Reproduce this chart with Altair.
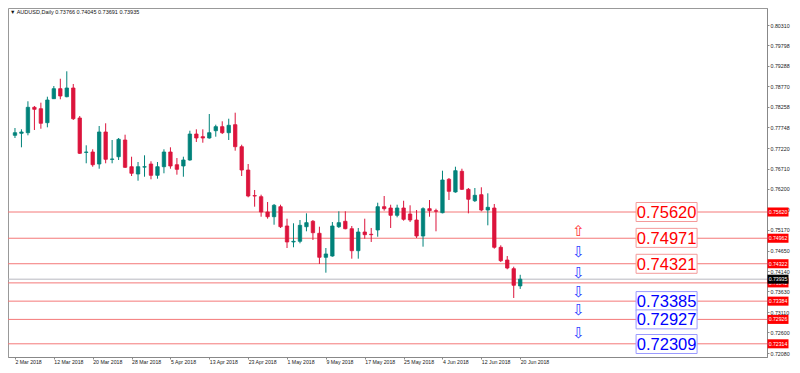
import altair as alt
import pandas as pd

# ---------------- data ----------------
DATE_LABELS = ["2 Mar 2018", "12 Mar 2018", "20 Mar 2018", "28 Mar 2018", "5 Apr 2018",
               "13 Apr 2018", "23 Apr 2018", "1 May 2018", "9 May 2018", "17 May 2018",
               "25 May 2018", "4 Jun 2018", "12 Jun 2018", "20 Jun 2018"]

OPEN = [0.77544, 0.77594, 0.77609, 0.78246, 0.78211, 0.77860, 0.78462, 0.78713, 0.78512, 0.78730,
        0.77978, 0.77115, 0.77125, 0.76824, 0.77627, 0.76940, 0.77007, 0.77426, 0.76756, 0.76573,
        0.76746, 0.76824, 0.76540, 0.76756, 0.77125, 0.76806, 0.76774, 0.76924, 0.77576, 0.77509,
        0.77476, 0.77659, 0.77760, 0.77609, 0.77810, 0.77258, 0.76673, 0.76031, 0.76004, 0.75620,
        0.75502, 0.75753, 0.75269, 0.74868, 0.74885, 0.75251, 0.75387, 0.75086, 0.74484, 0.74516,
        0.75251, 0.75387, 0.75201, 0.74649, 0.75118, 0.75061, 0.75169, 0.75753, 0.75720, 0.75537,
        0.75720, 0.75570, 0.75419, 0.75018, 0.75703, 0.75653, 0.75602, 0.76440, 0.76122, 0.76641,
        0.76189, 0.75903, 0.76054, 0.75670, 0.75720, 0.74735, 0.74416, 0.74198, 0.73766]
HIGH = [0.77727, 0.77694, 0.78397, 0.78279, 0.78362, 0.78512, 0.78780, 0.78963, 0.79149, 0.78831,
        0.78028, 0.77293, 0.77193, 0.77777, 0.77845, 0.77426, 0.77476, 0.77559, 0.77007, 0.76874,
        0.77042, 0.76892, 0.76874, 0.77193, 0.77243, 0.76974, 0.77007, 0.77659, 0.77694, 0.77694,
        0.78078, 0.77810, 0.77895, 0.77960, 0.78111, 0.77308, 0.76824, 0.76172, 0.76054, 0.75871,
        0.75821, 0.75803, 0.75452, 0.75337, 0.75419, 0.75587, 0.75419, 0.75251, 0.74717, 0.75369,
        0.75638, 0.75638, 0.75269, 0.75219, 0.75452, 0.75219, 0.75853, 0.76021, 0.75803, 0.75803,
        0.75903, 0.75788, 0.75670, 0.75738, 0.75921, 0.75703, 0.76656, 0.76473, 0.76756, 0.76706,
        0.76222, 0.76222, 0.76240, 0.76089, 0.75821, 0.74785, 0.74516, 0.74248, 0.74045]
LOW = [0.77476, 0.77243, 0.77544, 0.77677, 0.77709, 0.77744, 0.78454, 0.78447, 0.78497, 0.77928,
       0.77075, 0.76842, 0.76756, 0.76706, 0.76842, 0.76842, 0.76924, 0.76724, 0.76523, 0.76405,
       0.76505, 0.76440, 0.76455, 0.76591, 0.76706, 0.76556, 0.76505, 0.76907, 0.77376, 0.77358,
       0.77459, 0.77509, 0.77576, 0.77426, 0.77158, 0.76523, 0.75989, 0.75753, 0.75502, 0.75452,
       0.75301, 0.75219, 0.74717, 0.74735, 0.74835, 0.75136, 0.74918, 0.74316, 0.74098, 0.74499,
       0.75219, 0.75186, 0.74449, 0.74449, 0.74950, 0.74868, 0.75000, 0.75653, 0.75219, 0.75487,
       0.75402, 0.75369, 0.74968, 0.74750, 0.75502, 0.75136, 0.75587, 0.75921, 0.76104, 0.76172,
       0.75587, 0.75871, 0.75638, 0.75286, 0.74700, 0.74366, 0.74183, 0.73463, 0.73691]
CLOSE = [0.77609, 0.77627, 0.78246, 0.78196, 0.77845, 0.78429, 0.78713, 0.78530, 0.78730, 0.77960,
         0.77092, 0.77125, 0.76806, 0.77627, 0.76942, 0.76950, 0.77443, 0.76741, 0.76591, 0.76756,
         0.76756, 0.76540, 0.76756, 0.77125, 0.76774, 0.76691, 0.76924, 0.77576, 0.77476, 0.77476,
         0.77609, 0.77760, 0.77609, 0.77795, 0.77258, 0.76673, 0.76021, 0.76021, 0.75620, 0.75502,
         0.75788, 0.75251, 0.74868, 0.74885, 0.75286, 0.75352, 0.75101, 0.74484, 0.74567, 0.75269,
         0.75352, 0.75201, 0.74649, 0.75118, 0.75051, 0.75051, 0.75753, 0.75703, 0.75537, 0.75720,
         0.75437, 0.75419, 0.75018, 0.75703, 0.75653, 0.75638, 0.76423, 0.76139, 0.76656, 0.76189,
         0.75939, 0.76039, 0.75670, 0.75738, 0.74735, 0.74399, 0.74215, 0.73782, 0.73935]

Y_TICKS = [0.80310, 0.79798, 0.79288, 0.78770, 0.78258, 0.77748, 0.77220, 0.76710, 0.76200,
           0.75690, 0.75170, 0.74650, 0.74140, 0.73630, 0.73110, 0.72600, 0.72080]

LEVEL_LINES = [0.75620, 0.74962, 0.74322, 0.73842, 0.73384, 0.72926, 0.72314]
CURRENT_PRICE = 0.73935

RES_BOX_TEXT = ["0.75620", "0.74971", "0.74321"]
RES_BOX_LEVEL = [0.75620, 0.74971, 0.74321]
SUP_BOX_TEXT = ["0.73385", "0.72927", "0.72309"]
SUP_BOX_LEVEL = [0.73385, 0.72927, 0.72309]

UP_ARROWS = [0.75143]
DOWN_ARROWS = [0.74624, 0.74090, 0.73613, 0.73162, 0.72585]
ARROW_BAR = 87
BOX_BAR = 100.6

TITLE = "\u25BC AUDUSD,Daily  0.73766 0.74045 0.73691 0.73935"

# ---------------- tables ----------------
n = len(OPEN)
candles = pd.DataFrame({
    "bar": list(range(n)),
    "open": OPEN, "high": HIGH, "low": LOW, "close": CLOSE,
})
candles["dir"] = ["up" if c >= o else "down" for o, c in zip(OPEN, CLOSE)]

levels = pd.DataFrame({"price": LEVEL_LINES, "tag": [f"{v:.5f}" for v in LEVEL_LINES]})
current = pd.DataFrame({"price": [CURRENT_PRICE], "tag": [f"{CURRENT_PRICE:.5f}"]})
res_boxes = pd.DataFrame({"bar": [BOX_BAR] * len(RES_BOX_TEXT), "price": RES_BOX_LEVEL, "text": RES_BOX_TEXT})
sup_boxes = pd.DataFrame({"bar": [BOX_BAR] * len(SUP_BOX_TEXT), "price": SUP_BOX_LEVEL, "text": SUP_BOX_TEXT})
up_arr = pd.DataFrame({"bar": [ARROW_BAR] * len(UP_ARROWS), "price": UP_ARROWS, "t": ["\u21E7"] * len(UP_ARROWS)})
dn_arr = pd.DataFrame({"bar": [ARROW_BAR] * len(DOWN_ARROWS), "price": DOWN_ARROWS, "t": ["\u21E9"] * len(DOWN_ARROWS)})
title_df = pd.DataFrame({"t": [TITLE]})

# ---------------- scales & axes ----------------
PLOT_W, PLOT_H = 759, 349
XS = alt.Scale(domain=[-0.305, 115.33], nice=False, zero=False)
YS = alt.Scale(domain=[0.71983, 0.80737], nice=False, zero=False)

label_arr = "[" + ",".join(f"'{d}'" for d in DATE_LABELS) + "]"
X_AXIS = alt.Axis(values=list(range(0, 79, 6)), labelExpr=f"{label_arr}[round(datum.value/6)]",
                  labelAlign="left", labelFlush=False, labelOverlap=False, labelFontSize=5.2,
                  labelFont="Liberation Sans", labelColor="#222", labelPadding=0,
                  tickSize=2, tickColor="#888", domainColor="#888", grid=False, title=None)
Y_AXIS = alt.Axis(orient="right", values=Y_TICKS, format=".5f", labelFontSize=5.3,
                  labelFont="Liberation Sans", labelColor="#222", labelPadding=1,
                  labelOverlap=False, labelFlush=False,
                  tickSize=2, tickColor="#888", domainColor="#888", grid=False, title=None)


def X(field):
    return alt.X(field, scale=XS, axis=X_AXIS, title=None)


def Y(field):
    return alt.Y(field, scale=YS, axis=Y_AXIS, title=None)


COLORS = alt.Scale(domain=["up", "down"], range=["#00827a", "#dc143c"])

lines = alt.Chart(levels).mark_rule(color="#f47878", strokeWidth=1).encode(y=Y("price:Q"))
cur_line = alt.Chart(current).mark_rule(color="#b8b8c0", strokeWidth=1).encode(y=Y("price:Q"))

wicks = alt.Chart(candles).mark_rule(strokeWidth=1).encode(
    x=X("bar:Q"), y=Y("low:Q"), y2="high:Q",
    color=alt.Color("dir:N", scale=COLORS, legend=None),
)
bodies = alt.Chart(candles).mark_bar(width=3.4, strokeWidth=0.8).encode(
    x=X("bar:Q"), y=Y("open:Q"), y2="close:Q",
    color=alt.Color("dir:N", scale=COLORS, legend=None),
    stroke=alt.Stroke("dir:N", scale=COLORS, legend=None),
)

BOX_SHAPE = "M-1,-0.3115L1,-0.3115L1,0.3115L-1,0.3115Z"
TAG_SHAPE = "M-1,-0.43L1,-0.43L1,0.43L-1,0.43Z"
TAG_X = PLOT_W + 11


def boxes(df, border, txt):
    frame = alt.Chart(df).mark_point(shape=BOX_SHAPE, size=3721, filled=True, fill="white",
                                     stroke=border, strokeWidth=1, opacity=1).encode(
        x=X("bar:Q"), y=Y("price:Q"))
    label = alt.Chart(df).mark_text(font="Liberation Sans", fontSize=16.5, color=txt,
                                    align="center", baseline="middle", dy=1).encode(
        x=X("bar:Q"), y=Y("price:Q"), text="text:N")
    return frame + label


def tags(df, fill):
    box = alt.Chart(df).mark_point(shape=TAG_SHAPE, size=441, filled=True, fill=fill,
                                   strokeWidth=0, opacity=1, clip=False).encode(
        x=alt.value(TAG_X), y=Y("price:Q"))
    txt = alt.Chart(df).mark_text(font="Liberation Sans", fontSize=5.2, color="white",
                                  align="center", baseline="middle", clip=False).encode(
        x=alt.value(TAG_X), y=Y("price:Q"), text="tag:N")
    return box + txt


arrows_up = alt.Chart(up_arr).mark_text(font="DejaVu Sans", fontSize=15, color="#ff3030",
                                        baseline="middle").encode(
    x=X("bar:Q"), y=Y("price:Q"), text="t:N")
arrows_dn = alt.Chart(dn_arr).mark_text(font="DejaVu Sans", fontSize=15, color="#2a3cff",
                                        baseline="middle").encode(
    x=X("bar:Q"), y=Y("price:Q"), text="t:N")

title = alt.Chart(title_df).mark_text(font="Liberation Sans", fontSize=5.5, color="#111",
                                      align="left", baseline="middle").encode(
    x=alt.value(2), y=alt.value(3.5), text="t:N")

chart = alt.layer(
    lines, cur_line, wicks, bodies,
    boxes(res_boxes, "#f49a9a", "#ff0000"),
    boxes(sup_boxes, "#9a9aff", "#0000ff"),
    arrows_up, arrows_dn,
    tags(levels, "#ff0000"), tags(current, "#000000"),
    title,
).properties(
    width=PLOT_W, height=PLOT_H,
    autosize=alt.AutoSizeParams(type="none"),
    padding={"left": 0, "top": 0, "right": 25, "bottom": 8},
    background="white",
).configure_view(stroke="#999", strokeWidth=1)

chart.save("out.html", embed_options={"renderer": "svg", "actions": False})
